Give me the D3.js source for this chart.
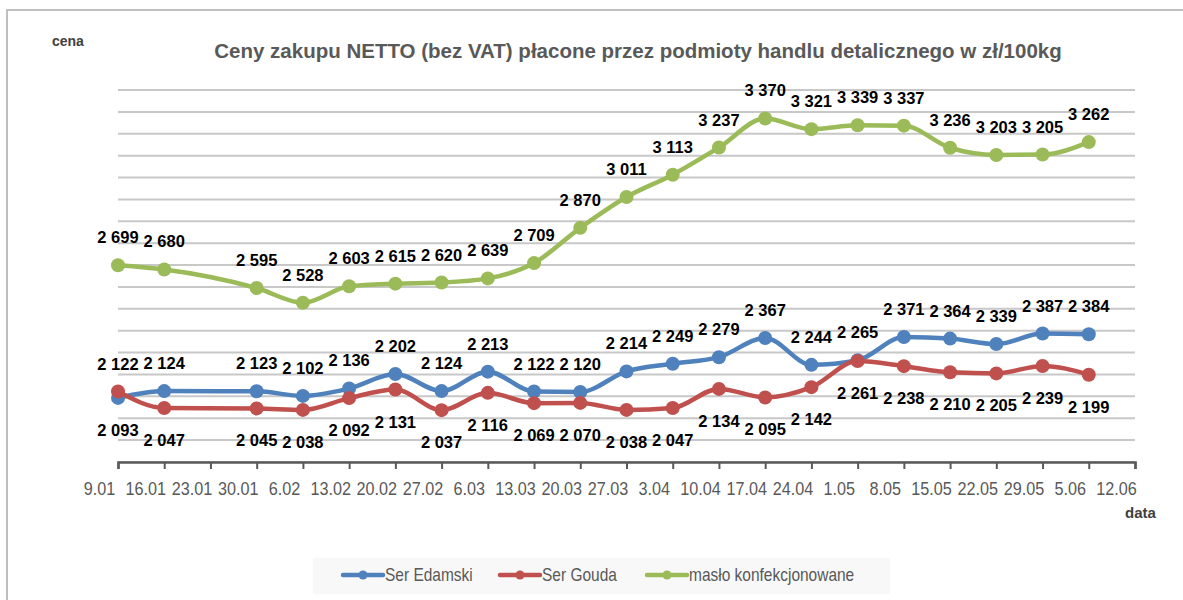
<!DOCTYPE html>
<html>
<head>
<meta charset="utf-8">
<script src="https://cdn.jsdelivr.net/npm/d3@7"></script>
<style>
  body { margin: 0; background: #fff; }
  text { font-family: "Liberation Sans", Arial, sans-serif; }
</style>
</head>
<body>
<script>
var W = 1183, H = 600;
var margin = {top: 90, left: 118, right: 48, bottom: 138};

var dates = ["9.01","16.01","23.01","30.01","6.02","13.02","20.02","27.02","6.03","13.03","20.03","27.03",
             "3.04","10.04","17.04","24.04","1.05","8.05","15.05","22.05","29.05","5.06","12.06"];

// null = brak notowania
var edamski = [2093,2124,null,2123,2102,2136,2202,2124,2213,2122,2120,2214,2249,2279,2367,2244,2265,2371,2364,2339,2387,2384,null];
var gouda   = [2122,2047,null,2045,2038,2092,2131,2037,2116,2069,2070,2038,2047,2134,2095,2142,2261,2238,2210,2205,2239,2199,null];
var maslo   = [2699,2680,null,2595,2528,2603,2615,2620,2639,2709,2870,3011,3113,3237,3370,3321,3339,3337,3236,3203,3205,3262,null];

var yTicks = d3.range(1800, 3501, 100);

var series = [
  {name: "Ser Edamski", values: edamski, color: "#4f81bd"},
  {name: "Ser Gouda", values: gouda, color: "#c0504d"},
  {name: "masło konfekcjonowane", values: maslo, color: "#9bbb59"}
];

var svg = d3.select("body").append("svg")
    .attr("width", W)
    .attr("height", H);

// ramka wykresu
svg.append("rect")
    .attr("x", 7).attr("y", 10)
    .attr("width", W - 4).attr("height", H)
    .attr("fill", "#fff")
    .attr("stroke", "#bfbfbf")
    .attr("stroke-width", 2);

var x = d3.scalePoint()
    .domain(dates)
    .range([margin.left, W - margin.right]);

var y = d3.scaleLinear()
    .domain([1800, 3500])
    .range([H - margin.bottom, margin.top]);

// siatka
svg.append("g").selectAll("line")
    .data(yTicks)
    .enter().append("line")
    .attr("x1", margin.left)
    .attr("x2", W - margin.right)
    .attr("y1", function(d) { return y(d); })
    .attr("y2", function(d) { return y(d); })
    .attr("stroke", "#c8c8c8")
    .attr("stroke-width", 2);

// os X - podpisy przesuniete w lewo od kresek, jak w oryginale
var xAxis = svg.append("g")
    .attr("transform", "translate(0," + y(1800) + ")")
    .call(d3.axisBottom(x).tickSize(7).tickPadding(13));
xAxis.select(".domain").attr("stroke", "#595959").attr("stroke-width", 2.5);
xAxis.selectAll(".tick line").attr("stroke", "#595959").attr("stroke-width", 2);
xAxis.selectAll(".tick text")
    .attr("x", -19 / 0.9)
    .attr("transform", "scale(0.9,1)")
    .attr("fill", "#595959")
    .style("font-size", "18px")
    .style("font-family", "'Liberation Sans', sans-serif");

series.forEach(function(s) {
  var pts = s.values.map(function(v, i) { return {v: v, i: i}; })
                    .filter(function(p) { return p.v != null; });
  svg.append("path")
      .datum(pts)
      .attr("fill", "none")
      .attr("stroke", s.color)
      .attr("stroke-width", 4.5)
      .attr("stroke-linejoin", "round")
      .attr("d", d3.line()
          .x(function(p) { return x(dates[p.i]); })
          .y(function(p) { return y(p.v); })
          .curve(d3.curveMonotoneX));
  svg.append("g").selectAll("circle")
      .data(pts)
      .enter().append("circle")
      .attr("cx", function(p) { return x(dates[p.i]); })
      .attr("cy", function(p) { return y(p.v); })
      .attr("r", 7)
      .attr("fill", s.color);
});

// etykiety danych: wyższy ser nad punktem, niższy pod punktem
var fmt = function(v) { return d3.format(",")(v).replace(/,/g, " "); };
series.forEach(function(s, k) {
  var pts = s.values.map(function(v, i) { return {v: v, i: i}; })
                    .filter(function(p) { return p.v != null; });
  svg.append("g").selectAll("text")
      .data(pts)
      .enter().append("text")
      .attr("x", function(p) { return x(dates[p.i]); })
      .attr("y", function(p) {
        var above = true;
        if (k === 0) above = p.v >= gouda[p.i];
        if (k === 1) above = p.v > edamski[p.i];
        return y(p.v) + (above ? -22 : 38);
      })
      .attr("text-anchor", "middle")
      .attr("fill", "#000")
      .style("font-size", "16.5px")
      .style("font-weight", "bold")
      .text(function(p) { return fmt(p.v); });
});

// tytul
svg.append("text")
    .attr("x", 638).attr("y", 58)
    .attr("text-anchor", "middle")
    .attr("fill", "#595959")
    .style("font-size", "20.5px")
    .style("font-weight", "bold")
    .text("Ceny zakupu NETTO (bez VAT) płacone przez podmioty handlu detalicznego w zł/100kg");

svg.append("text")
    .attr("x", 52).attr("y", 46)
    .attr("fill", "#404040")
    .style("font-size", "14px")
    .style("font-weight", "bold")
    .text("cena");

svg.append("text")
    .attr("x", 1125).attr("y", 518)
    .attr("fill", "#404040")
    .style("font-size", "15px")
    .style("font-weight", "bold")
    .text("data");

// legenda
var legend = svg.append("g");
legend.append("rect")
    .attr("x", 313).attr("y", 558)
    .attr("width", 577).attr("height", 36)
    .attr("fill", "#f8f8f8");
var legX = [343, 500, 647];
series.forEach(function(s, k) {
  var g = legend.append("g").attr("transform", "translate(" + legX[k] + ",575)");
  g.append("line").attr("x1", 0).attr("x2", 40)
      .attr("stroke", s.color).attr("stroke-width", 4.5).attr("stroke-linecap", "round");
  g.append("circle").attr("cx", 20).attr("r", 4.5).attr("fill", s.color);
  g.append("text")
      .attr("transform", "translate(42,6) scale(0.885,1)")
      .attr("fill", "#595959")
      .style("font-size", "17.5px")
      .text(s.name);
});
</script>
</body>
</html>
